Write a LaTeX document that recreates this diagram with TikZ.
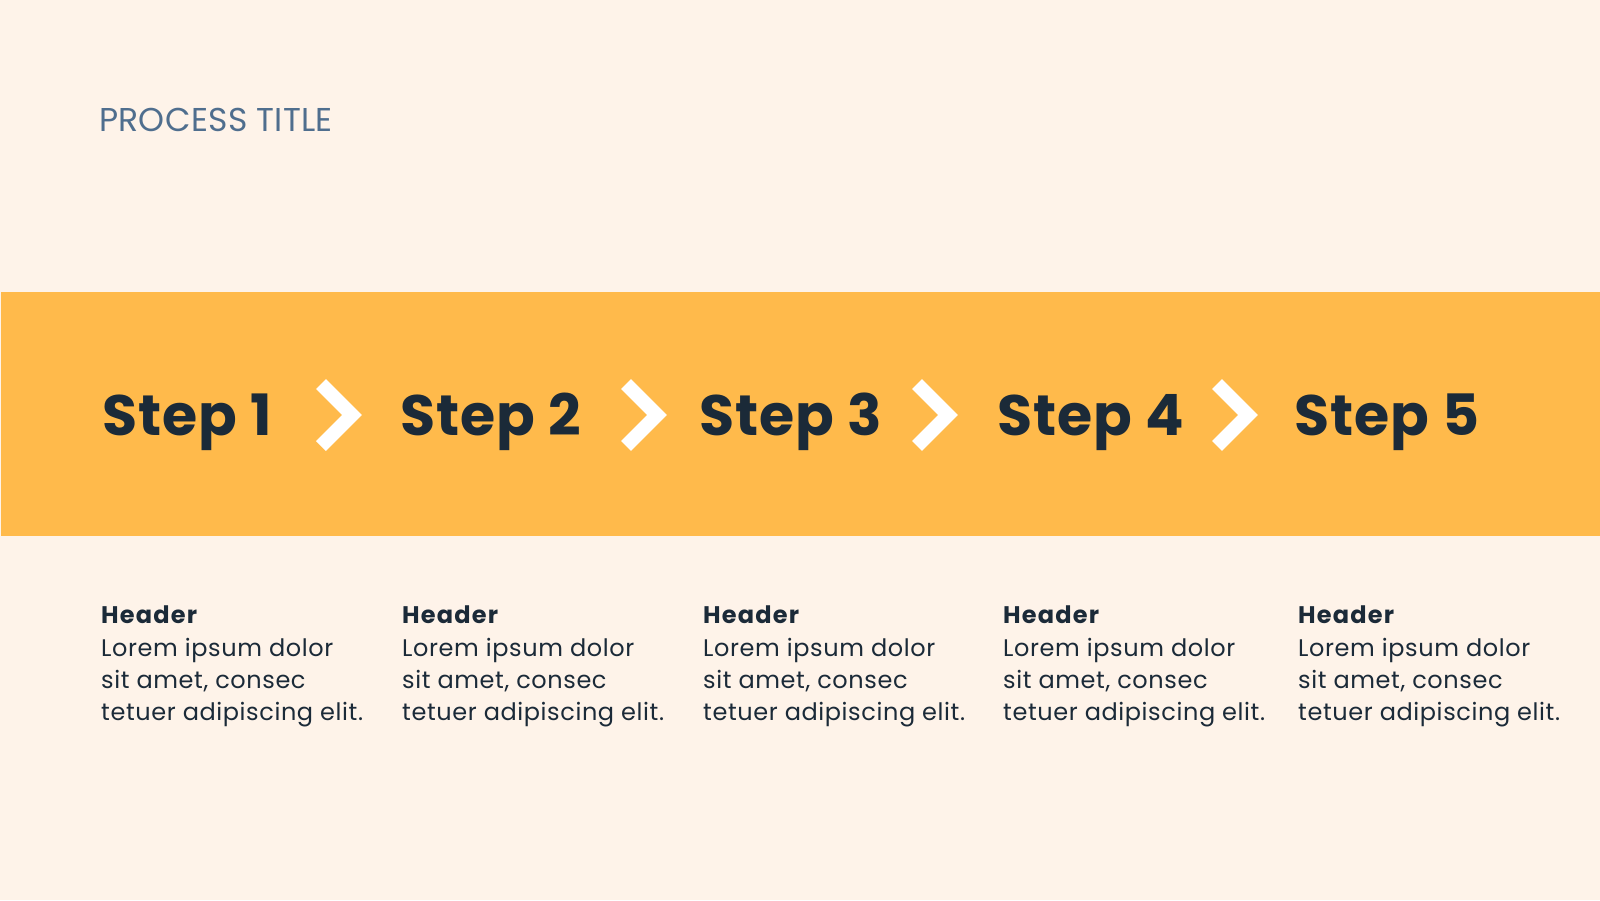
\documentclass[tikz,border=0pt]{standalone}
\usepackage{fontspec}
\setmainfont{Poppins}
\definecolor{bg}{HTML}{FEF3E9}
\definecolor{band}{HTML}{FFBA4B}
\definecolor{ink}{HTML}{1B2A38}
\definecolor{slate}{HTML}{4F6E8E}
\tikzset{
  steptext/.style={anchor=base west, inner sep=0pt, text=ink, font=\fontsize{57}{64}\selectfont\bfseries\addfontfeatures{LetterSpace=2}},
  headtext/.style={anchor=base west, inner sep=0pt, text=ink, font=\fontsize{24}{32}\selectfont\bfseries\addfontfeatures{LetterSpace=5}},
  bodytext/.style={anchor=base west, inner sep=0pt, text=ink, font=\fontsize{24}{32}\selectfont\mdseries\addfontfeatures{LetterSpace=2.5}, align=left},
  chev/.style={draw=white, line width=14pt, miter limit=10, line join=miter, line cap=butt},
}
\begin{document}
\begin{tikzpicture}[x=1pt,y=-1pt]
\useasboundingbox (0,0) rectangle (1600,900);
\fill[bg] (0,0) rectangle (1600,900);
\fill[band] (1,292) rectangle (1600,536);
\node[anchor=base west, inner sep=0pt, text=slate, font=\fontsize{33}{38}\selectfont\addfontfeatures{LetterSpace=1}] (title) at (99,131) {PROCESS TITLE};
\foreach \i/\x in {1/102,2/400,3/699,4/997,5/1294}{
  \node[steptext] (s\i) at (\x,435) {Step \i};
}
\foreach \i/\x in {1/352,2/657,3/948,4/1248}{
  \draw[chev] (\x-31,384) -- (\x,415) -- (\x-31,446);
}
\foreach \i/\x in {1/101,2/402,3/703,4/1003,5/1298}{
  \node[headtext] (h\i) at (\x,623) {Header};
  \node[bodytext] (b\i) at (\x,720) {Lorem ipsum dolor\\sit amet, consec\\tetuer adipiscing elit.};
}
\end{tikzpicture}
\end{document}
